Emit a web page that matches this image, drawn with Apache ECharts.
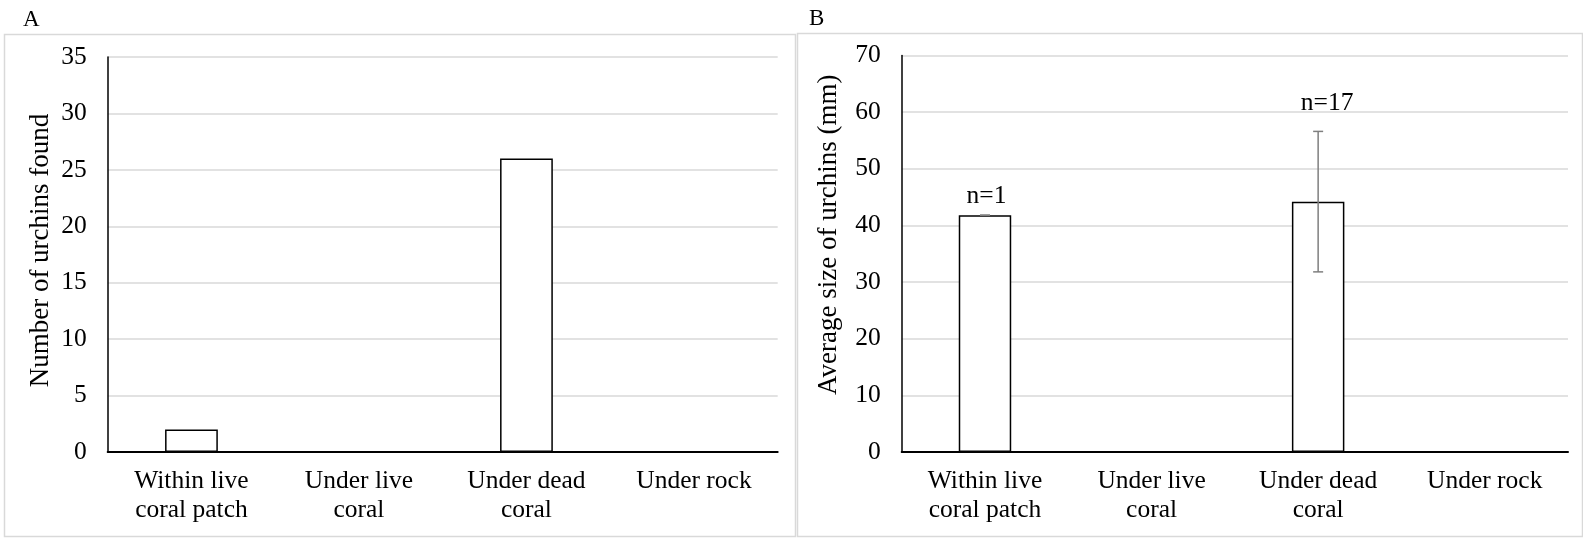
<!DOCTYPE html>
<html>
<head>
<meta charset="utf-8">
<script src="https://cdn.jsdelivr.net/npm/echarts@6/dist/echarts.min.js"></script>
<style>
html,body{margin:0;padding:0;background:#fff;}
#chart{width:1583px;height:538px;}
</style>
</head>
<body>
<div id="chart"></div>
<script>
// ---- data ----
const categories = ['Within live\ncoral patch', 'Under live\ncoral', 'Under dead\ncoral', 'Under rock'];
const urchinCounts = [2, 0, 26, 0];
const avgSize = [41.8, null, 44.2, null];
const sizeErrLow = [41.8, null, 31.8, null];
const sizeErrHigh = [41.8, null, 56.6, null];
const nLabels = ['n=1', '', 'n=17', ''];
const countTicks = { min: 0, max: 35, interval: 5 };
const sizeTicks = { min: 0, max: 70, interval: 10 };
const panelTitles = ['A', 'B'];
const yNames = ['Number of urchins found', 'Average size of urchins (mm)'];

const FONT = '"Liberation Serif", "DejaVu Serif", serif';
const FS = 25.5;
const FS_NAME = 27;

const chart = echarts.init(document.getElementById('chart'), null, { renderer: 'canvas' });

function yAxisCfg(ticks, name, gridIndex, nameGap, padding) {
  return {
    type: 'value', gridIndex, min: ticks.min, max: ticks.max, interval: ticks.interval,
    name, nameLocation: 'middle', nameGap, nameRotate: 90,
    nameTextStyle: { fontFamily: FONT, fontSize: FS_NAME, color: '#000', padding },
    axisLine: { show: true, lineStyle: { color: '#000', width: 1.5 } },
    axisTick: { show: false },
    axisLabel: { fontFamily: FONT, fontSize: FS, color: '#000', margin: 21 },
    splitLine: { show: true, lineStyle: { color: '#d9d9d9', width: 1.5 } }
  };
}
function xAxisCfg(gridIndex) {
  return {
    type: 'category', gridIndex, data: categories,
    axisLine: { show: true, lineStyle: { color: '#000', width: 2 } },
    axisTick: { show: false },
    axisLabel: { fontFamily: FONT, fontSize: FS, color: '#000', margin: 15, lineHeight: 29, interval: 0 },
    splitLine: { show: false }
  };
}

const errData = categories.map((c, i) => [i, sizeErrLow[i], sizeErrHigh[i], avgSize[i], nLabels[i]])
  .filter(d => d[3] != null);

const option = {
  animation: false,
  backgroundColor: '#fff',
  title: [
    { text: panelTitles[0], left: 18, top: 3, textStyle: { fontFamily: FONT, fontSize: 23, fontWeight: 'normal', color: '#000' } },
    { text: panelTitles[1], left: 804, top: 2, textStyle: { fontFamily: FONT, fontSize: 23, fontWeight: 'normal', color: '#000' } }
  ],
  graphic: [
    { type: 'rect', shape: { x: 4.5, y: 34.5, width: 791, height: 502 }, style: { fill: null, stroke: '#d9d9d9', lineWidth: 1.5 }, z: -1 },
    { type: 'rect', shape: { x: 797.5, y: 33.5, width: 785, height: 503 }, style: { fill: null, stroke: '#d9d9d9', lineWidth: 1.5 }, z: -1 }
  ],
  grid: [
    { left: 107.7, right: 805.3, top: 57, bottom: 86 },
    { left: 901.7, right: 15, top: 55.5, bottom: 86 }
  ],
  xAxis: [xAxisCfg(0), xAxisCfg(1)],
  yAxis: [
    yAxisCfg(countTicks, yNames[0], 0, 53, [0, 0, 0, 8]),
    yAxisCfg(sizeTicks, yNames[1], 1, 59, [0, 0, 0, 38])
  ],
  series: [
    {
      type: 'bar', xAxisIndex: 0, yAxisIndex: 0, data: urchinCounts, barWidth: '31.5%',
      itemStyle: { color: '#fff', borderColor: '#000', borderWidth: 1.5 }
    },
    {
      type: 'bar', xAxisIndex: 1, yAxisIndex: 1, data: avgSize, barWidth: '31.5%',
      itemStyle: { color: '#fff', borderColor: '#000', borderWidth: 1.5 }
    },
    {
      type: 'custom', xAxisIndex: 1, yAxisIndex: 1, data: errData, z: 5,
      renderItem: function (params, api) {
        const idx = api.value(0);
        const lo = api.coord([idx, api.value(1)]);
        const hi = api.coord([idx, api.value(2)]);
        const x = lo[0];
        const cap = 5;
        const stroke = { stroke: '#7f7f7f', lineWidth: 1.5 };
        const hasRange = api.value(2) > api.value(3);
        const label = errData[params.dataIndex][4];
        return {
          type: 'group',
          children: [
            { type: 'line', shape: { x1: x, y1: lo[1], x2: x, y2: hi[1] }, style: stroke },
            { type: 'line', shape: { x1: x - cap, y1: lo[1], x2: x + cap, y2: lo[1] }, style: stroke },
            { type: 'line', shape: { x1: x - cap, y1: hi[1], x2: x + cap, y2: hi[1] }, style: stroke },
            { type: 'text', x: x + (hasRange ? 9 : 1.5), y: hi[1] - (hasRange ? 28 : 19),
              style: { text: label, fontFamily: FONT, fontSize: FS, fill: '#000', align: 'center', verticalAlign: 'middle' } }
          ]
        };
      }
    }
  ]
};
chart.setOption(option);
</script>
</body>
</html>
